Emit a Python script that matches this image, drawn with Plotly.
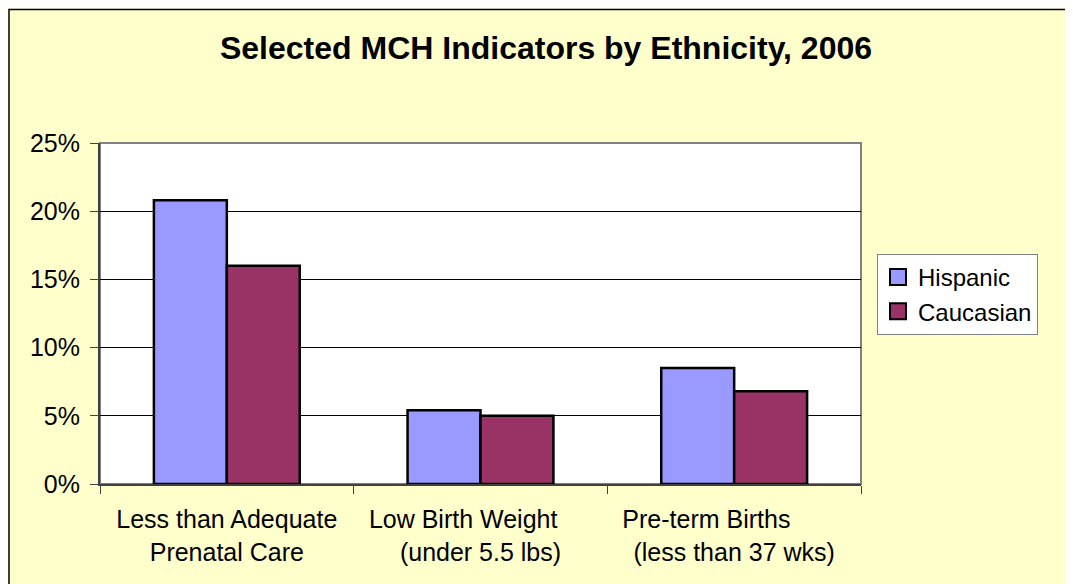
import plotly.graph_objects as go

categories = [
    "Less than Adequate<br>Prenatal Care",
    "Low Birth Weight" + "\u00a0" * 5 + "<br>(under 5.5 lbs)",
    "Pre-term Births" + "\u00a0" * 8 + "<br>(less than 37 wks)",
]
series_names = ["Hispanic", "Caucasian"]
series_colors = ["#9999FF", "#993366"]
hispanic = [0.208, 0.054, 0.085]
caucasian = [0.160, 0.050, 0.068]
y_ticks = [0, 0.05, 0.10, 0.15, 0.20, 0.25]
y_tick_labels = ["0%", "5%", "10%", "15%", "20%", "25%"]
title_text = "Selected MCH Indicators by Ethnicity, 2006"

OFF = 8  # browser body margin
W, H = 1073 - OFF, 584 - OFF
L, R, T, B = 100 - OFF, 861 - OFF, 143 - OFF, 484 - OFF

FONT = "Liberation Sans, Arial, sans-serif"
FS = 25


def px_x(p):
    return (p - OFF - L) / (R - L)


def px_y(p):
    return (B - (p - OFF)) / (B - T)


fig = go.Figure()
for name, vals, col in zip(series_names, [hispanic, caucasian], series_colors):
    fig.add_trace(go.Bar(x=categories, y=vals, name=name, showlegend=False,
                         marker=dict(color=col, line=dict(color="black", width=2.5))))
# legend entries with larger square swatches
for name, col in zip(series_names, series_colors):
    fig.add_trace(go.Scatter(x=[None], y=[None], name=name, mode="markers",
                             marker=dict(symbol="square", size=16, color=col,
                                         line=dict(color="black", width=2))))

fig.update_layout(
    width=W, height=H,
    margin=dict(l=L, r=W - R, t=T, b=H - B),
    paper_bgcolor="#FFFFCC",
    plot_bgcolor="white",
    barmode="group",
    bargap=0.425,
    bargroupgap=0,
    font=dict(family=FONT, size=FS, color="black"),
    title=dict(text="<b>" + title_text + "</b>", x=px_x(546), xref="paper", xanchor="center",
               y=1 - (48 - OFF) / H, yref="container", yanchor="middle",
               font=dict(family=FONT, size=32, color="black")),
    legend=dict(x=px_x(877), y=px_y(254), xanchor="left", yanchor="top",
                xref="paper", yref="paper",
                bgcolor="white", bordercolor="#808080", borderwidth=1,
                font=dict(family=FONT, size=24, color="black"),
                itemwidth=30),
    showlegend=True,
)

fig.update_xaxes(
    showgrid=False, showline=True, linecolor="#404040", linewidth=2,
    ticks="outside", ticklen=8, tickcolor="#404040", tickwidth=1,
    tickson="boundaries", ticklabelstandoff=12,
    tickfont=dict(family=FONT, size=FS, color="black"),
    fixedrange=True,
)
fig.update_yaxes(
    range=[0, 0.25], tickvals=y_ticks, ticktext=y_tick_labels,
    showgrid=True, gridcolor="black", gridwidth=1,
    showline=True, linecolor="#404040", linewidth=2,
    ticks="outside", ticklen=8, tickcolor="#404040", tickwidth=1,
    ticklabelstandoff=5,
    tickfont=dict(family=FONT, size=FS, color="black"),
    zeroline=False, fixedrange=True,
)

# plot-area border (top/right grey)
fig.add_shape(type="rect", xref="paper", yref="paper", x0=0, x1=1, y0=0, y1=1,
              line=dict(color="#808080", width=2), layer="below")
# outer chart border (left/top visible)
fig.add_shape(type="rect", xref="paper", yref="paper",
              x0=px_x(9), x1=px_x(1100), y0=px_y(620), y1=px_y(9.5),
              line=dict(color="black", width=1.5), layer="below")

fig.write_html("out.html")
